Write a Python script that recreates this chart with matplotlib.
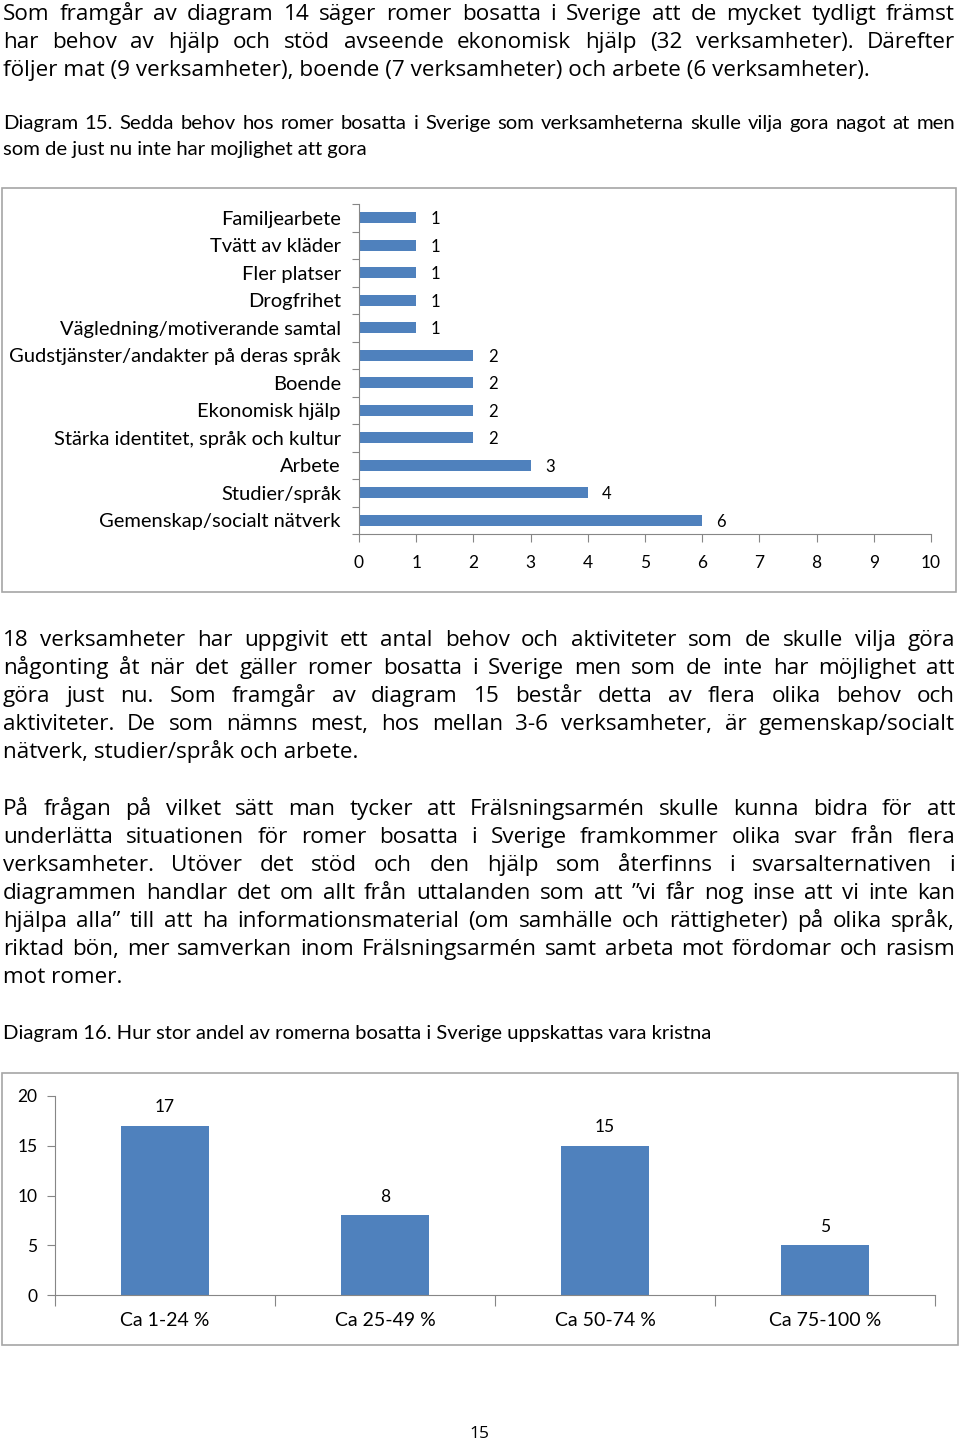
import matplotlib
matplotlib.use('Agg')
import matplotlib.pyplot as plt
from matplotlib.patches import Rectangle

W, H = 960, 1442

# Diagram 15
behov = ['Familjearbete', 'Tvätt av kläder', 'Fler platser', 'Drogfrihet',
         'Vägledning/motiverande samtal', 'Gudstjänster/andakter på deras språk',
         'Boende', 'Ekonomisk hjälp', 'Stärka identitet, språk och kultur',
         'Arbete', 'Studier/språk', 'Gemenskap/socialt nätverk']
antal = [1, 1, 1, 1, 1, 2, 2, 2, 2, 3, 4, 6]
x_ticks15 = list(range(0, 11))

# Diagram 16
andel = ['Ca 1-24 %', 'Ca 25-49 %', 'Ca 50-74 %', 'Ca 75-100 %']
antal16 = [17, 8, 15, 5]
y_ticks16 = [0, 5, 10, 15, 20]

# Brödtext
para1 = ["Som framgår av diagram 14 säger romer bosatta i Sverige att de mycket tydligt främst",
         "har behov av hjälp och stöd avseende ekonomisk hjälp (32 verksamheter). Därefter",
         "följer mat (9 verksamheter), boende (7 verksamheter) och arbete (6 verksamheter)."]
caption15 = ["Diagram 15. Sedda behov hos romer bosatta i Sverige som verksamheterna skulle vilja gora nagot at men",
             "som de just nu inte har mojlighet att gora"]
para2 = ["18 verksamheter har uppgivit ett antal behov och aktiviteter som de skulle vilja göra",
         "någonting åt när det gäller romer bosatta i Sverige men som de inte har möjlighet att",
         "göra just nu. Som framgår av diagram 15 består detta av flera olika behov och",
         "aktiviteter. De som nämns mest, hos mellan 3-6 verksamheter, är gemenskap/socialt",
         "nätverk, studier/språk och arbete."]
para3 = ["På frågan på vilket sätt man tycker att Frälsningsarmén skulle kunna bidra för att",
         "underlätta situationen för romer bosatta i Sverige framkommer olika svar från flera",
         "verksamheter. Utöver det stöd och den hjälp som återfinns i svarsalternativen i",
         "diagrammen handlar det om allt från uttalanden som att ”vi får nog inse att vi inte kan",
         "hjälpa alla” till att ha informationsmaterial (om samhälle och rättigheter) på olika språk,",
         "riktad bön, mer samverkan inom Frälsningsarmén samt arbeta mot fördomar och rasism",
         "mot romer."]
caption16 = "Diagram 16. Hur stor andel av romerna bosatta i Sverige uppskattas vara kristna"

BODY = 'Open Sans'
CHART = 'Lato'
BLUE = '#4F81BD'
AXC = '#868686'

fig = plt.figure(figsize=(W / 100, H / 100), dpi=100)
renderer = fig.canvas.get_renderer()


def fx(x):
    return x / W


def fy(y):
    return 1 - y / H


def write_line(line, y, size, family, justify=True, x0=3, x1=955):
    if not justify:
        fig.text(fx(x0), fy(y), line, fontsize=size, family=family, va='baseline')
        return
    words = line.split(' ')
    arts = [fig.text(0, fy(y), w, fontsize=size, family=family, va='baseline') for w in words]
    widths = [a.get_window_extent(renderer).width for a in arts]
    gap = (x1 - x0 - sum(widths)) / (len(words) - 1)
    # om raden blir för lång: krymp lite
    while gap < 3.5:
        size -= 0.2
        for a in arts:
            a.set_fontsize(size)
        widths = [a.get_window_extent(renderer).width for a in arts]
        gap = (x1 - x0 - sum(widths)) / (len(words) - 1)
    x = x0
    for a, w in zip(arts, widths):
        a.set_x(fx(x))
        x += w + gap


def write_par(lines, y0, size, family, step=28):
    for i, line in enumerate(lines):
        write_line(line, y0 + i * step, size, family, justify=(i < len(lines) - 1))


write_par(para1, 20, 16.2, BODY)
write_line(caption15[0], 129, 14.6, CHART)
write_line(caption15[1], 155, 14.6, CHART, justify=False)
write_par(para2, 646, 16.2, BODY)
write_par(para3, 815, 16.2, BODY)
write_line(caption16, 1039, 14.6, CHART, justify=False)
fig.text(fx(479), fy(1438), '15', fontsize=12.5, family=BODY, ha='center', va='baseline')

# ramar runt diagrammen
fig.patches.append(Rectangle((fx(2), fy(592)), fx(954), 404 / H, transform=fig.transFigure,
                             fill=False, edgecolor='#a6a6a6', lw=1.2))
fig.patches.append(Rectangle((fx(2), fy(1345)), fx(956), 272 / H, transform=fig.transFigure,
                             fill=False, edgecolor='#a6a6a6', lw=1.2))

# Diagram 15: liggande staplar
ax1 = fig.add_axes([fx(359), fy(534), 572 / W, 330 / H])
ypos = list(range(len(behov)))[::-1]
ax1.barh(ypos, antal, height=0.4, color=BLUE)
for yp, v in zip(ypos, antal):
    ax1.text(v + 0.25, yp - 0.05, str(v), fontsize=12, family=CHART, va='center')
ax1.set_xlim(0, 10)
ax1.set_ylim(-0.5, len(behov) - 0.5)
ax1.set_xticks(x_ticks15)
ax1.set_xticklabels([str(t) for t in x_ticks15], fontsize=12.5, family=CHART)
ax1.set_yticks([i - 0.5 for i in range(len(behov) + 1)])
ax1.set_yticklabels([])
ax1.set_yticks(ypos, behov, minor=True)
ax1.tick_params(axis='y', which='minor', length=0, pad=13, labelsize=14.5)
ax1.tick_params(axis='y', which='major', length=5, color=AXC, width=0.8)
ax1.tick_params(axis='x', length=6, color=AXC, width=0.8, pad=9)
for lab in ax1.get_yticklabels(minor=True):
    lab.set_family(CHART)
for s in ['top', 'right']:
    ax1.spines[s].set_visible(False)
for s in ['left', 'bottom']:
    ax1.spines[s].set_color(AXC)
    ax1.spines[s].set_linewidth(0.8)

# Diagram 16: stående staplar
ax2 = fig.add_axes([fx(55), fy(1295), 880 / W, 199 / H])
xpos = list(range(len(andel)))
ax2.bar(xpos, antal16, width=0.4, color=BLUE)
for xp, v in zip(xpos, antal16):
    ax2.annotate(str(v), (xp, v), xytext=(0, 7.5), textcoords='offset points',
                 ha='center', va='bottom', fontsize=12.5, family=CHART)
ax2.set_xlim(-0.5, len(andel) - 0.5)
ax2.set_ylim(0, 20)
ax2.set_yticks(y_ticks16)
ax2.set_yticklabels([str(t) for t in y_ticks16], fontsize=12.5, family=CHART)
ax2.set_xticks([i - 0.5 for i in range(len(andel) + 1)])
ax2.set_xticklabels([])
ax2.set_xticks(xpos, andel, minor=True)
ax2.tick_params(axis='x', which='minor', length=0, pad=12, labelsize=14)
ax2.tick_params(axis='x', which='major', length=8, color=AXC, width=0.8)
ax2.tick_params(axis='y', length=6, color=AXC, width=0.8, pad=6.5)
for lab in ax2.get_xticklabels(minor=True):
    lab.set_family(CHART)
for s in ['top', 'right']:
    ax2.spines[s].set_visible(False)
for s in ['left', 'bottom']:
    ax2.spines[s].set_color(AXC)
    ax2.spines[s].set_linewidth(0.8)

fig.savefig('out.png', dpi=100)
